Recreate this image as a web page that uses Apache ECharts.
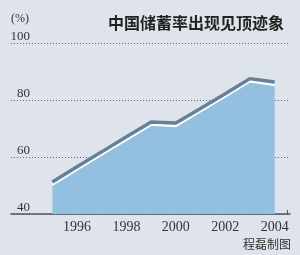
<!DOCTYPE html>
<html>
<head>
<meta charset="utf-8">
<script src="https://cdn.jsdelivr.net/npm/echarts@6/dist/echarts.min.js"></script>
<style>
html,body{margin:0;padding:0;background:#dfe4ec;}
#c{width:300px;height:255px;}
</style>
</head>
<body>
<div id="c"></div>
<script>
var years = ['1995','1996','1997','1998','1999','2000','2001','2002','2003','2004'];
var topLine = [51.2, 56.6, 61.8, 67.1, 72.3, 71.9, 77.0, 82.2, 87.5, 86.3];
var areaLine = [50.2, 55.6, 60.8, 66.0, 71.3, 70.8, 76.0, 81.2, 86.5, 85.2];
var yTicks = [40, 60, 80, 100];
var title = '中国储蓄率出现见顶迹象';
var unit = '(%)';
var credit = '程磊制图';

var serif = 'Liberation Serif, serif';
var chart = echarts.init(document.getElementById('c'), null, {renderer: 'canvas'});
chart.setOption({
  backgroundColor: '#dfe4ec',
  animation: false,
  title: {
    text: title, right: 11, top: 10,
    textStyle: {fontFamily: 'Noto Sans CJK SC', fontSize: 16, fontWeight: 'bold', color: '#222'}
  },
  graphic: [
    {type: 'text', left: 11, top: 13, style: {text: unit, fontFamily: serif, fontSize: 12, fill: '#333'}},
    {type: 'text', right: 9, top: 238, style: {text: credit, fontFamily: 'Noto Sans CJK SC', fontSize: 12, fill: '#333'}}
  ],
  grid: [
    {left: 40, right: 13, top: 43, bottom: 41},
    {left: 11, right: 10, top: 43, bottom: 41}
  ],
  xAxis: [
    {
      type: 'category', gridIndex: 0, data: years, boundaryGap: true,
      axisLine: {show: false},
      axisTick: {show: true, inside: true, length: 4, lineStyle: {color: '#4a5866', width: 1}},
      axisLabel: {
        interval: function (i) { return i % 2 === 1; },
        fontFamily: serif, fontSize: 14, color: '#333', margin: 6
      },
      splitLine: {show: false}
    },
    {
      type: 'value', gridIndex: 1, min: 0, max: 1,
      axisLine: {show: true, lineStyle: {color: '#4a5866', width: 1.5}},
      axisTick: {show: false}, axisLabel: {show: false}, splitLine: {show: false}
    }
  ],
  yAxis: [
    {type: 'value', gridIndex: 0, min: yTicks[0], max: yTicks[yTicks.length - 1], show: false},
    {
      type: 'value', gridIndex: 1, min: yTicks[0], max: yTicks[yTicks.length - 1], interval: 20,
      axisLine: {show: false}, axisTick: {show: false},
      axisLabel: {
        inside: true, align: 'right', margin: 19, verticalAlign: 'bottom',
        fontFamily: serif, fontSize: 13, color: '#333'
      },
      splitLine: {show: true, lineStyle: {type: [1, 2], color: '#5d6b78', width: 1}}
    }
  ],
  series: [
    {
      type: 'line', xAxisIndex: 0, yAxisIndex: 0, data: areaLine,
      symbol: 'none', z: 3,
      lineStyle: {color: '#ffffff', width: 2},
      areaStyle: {color: '#93bfe1', opacity: 1}
    },
    {
      type: 'line', xAxisIndex: 0, yAxisIndex: 0, data: topLine,
      symbol: 'none', z: 4,
      lineStyle: {color: '#65819a', width: 3.5}
    }
  ]
});
</script>
</body>
</html>
